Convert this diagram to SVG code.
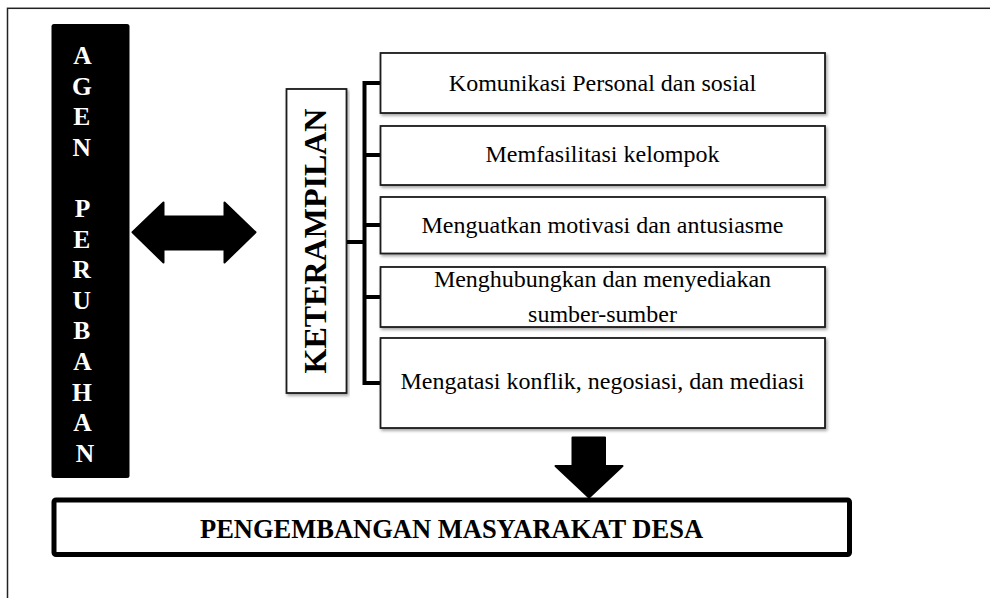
<svg xmlns="http://www.w3.org/2000/svg" width="990" height="598" viewBox="0 0 990 598">
<defs>
<style>
.frame{fill:none;stroke:#222;stroke-width:1.5}
.box{fill:#fff;stroke:#1a1a1a;stroke-width:1.8;filter:url(#sh)}
.t{font-family:"Liberation Serif","Times New Roman",serif;font-size:24px;fill:#000;text-anchor:middle}
.b{font-family:"Liberation Serif","Times New Roman",serif;font-weight:bold;text-anchor:middle}
.conn{fill:none;stroke:#000;stroke-width:4;stroke-linejoin:miter}
.arrow{fill:#000;stroke:#000;stroke-width:2;stroke-linejoin:round}
</style>
<filter id="sh" x="-5%" y="-10%" width="110%" height="130%">
<feDropShadow dx="1.5" dy="2" stdDeviation="1.5" flood-color="#000" flood-opacity="0.35"/>
</filter>
</defs>
<rect class="frame" x="7.5" y="8.3" width="1000" height="620"/>

<g id="agen">
<rect x="51.5" y="24" width="78" height="454" rx="2.5" fill="#000"/>
<text class="b" font-size="25.5" fill="#fff">
<tspan x="85" y="64">A</tspan>
<tspan x="85" y="94.6">G</tspan>
<tspan x="85" y="125.2">E</tspan>
<tspan x="85" y="155.8">N</tspan>
<tspan x="85" y="217">P</tspan>
<tspan x="85" y="247.6">E</tspan>
<tspan x="85" y="278.2">R</tspan>
<tspan x="85" y="308.8">U</tspan>
<tspan x="85" y="339.4">B</tspan>
<tspan x="85" y="370">A</tspan>
<tspan x="85" y="400.6">H</tspan>
<tspan x="85" y="431.2">A</tspan>
<tspan x="85" y="461.8">N</tspan>
</text>
</g>

<g id="double-arrow">
<polygon class="arrow" points="132.5,232.3 163.5,202.5 163.5,216.5 224.5,216.5 224.5,202.5 255.5,232.3 224.5,262.5 224.5,249.5 163.5,249.5 163.5,262.5"/>
</g>

<g id="keterampilan">
<rect class="box" x="286.5" y="89" width="60" height="304"/>
<text class="b" font-size="32" transform="translate(326,241) rotate(-90)" x="0" y="0">KETERAMPILAN</text>
</g>

<g id="connectors">
<path class="conn" d="M347,242 H364.5"/>
<path class="conn" d="M380,83 H364.5 V383 H380"/>
<path class="conn" d="M364.5,155 H380"/>
<path class="conn" d="M364.5,225 H380"/>
<path class="conn" d="M364.5,297 H380"/>
</g>

<g id="skill1">
<rect class="box" x="380.5" y="53" width="444.5" height="60"/>
<text class="t" x="602.5" y="91">Komunikasi Personal dan sosial</text>
</g>
<g id="skill2">
<rect class="box" x="380.5" y="126" width="444.5" height="59"/>
<text class="t" x="602.5" y="162">Memfasilitasi kelompok</text>
</g>
<g id="skill3">
<rect class="box" x="380.5" y="197" width="444.5" height="56.5"/>
<text class="t" x="602.5" y="233">Menguatkan motivasi dan antusiasme</text>
</g>
<g id="skill4">
<rect class="box" x="380.5" y="267" width="444.5" height="60"/>
<text class="t" x="602.5" y="287">Menghubungkan dan menyediakan</text>
<text class="t" x="602.5" y="321.5">sumber-sumber</text>
</g>
<g id="skill5">
<rect class="box" x="380.5" y="338" width="444.5" height="90"/>
<text class="t" x="602.5" y="389">Mengatasi konflik, negosiasi, dan mediasi</text>
</g>

<g id="down-arrow">
<polygon class="arrow" points="572.5,437.5 605,437.5 605,466 622.5,466 589,497.5 555.5,466 572.5,466"/>
</g>

<g id="pengembangan">
<rect x="54" y="500" width="795.5" height="54.5" rx="2" fill="#fff" stroke="#000" stroke-width="5"/>
<text class="b" font-size="26.5" x="451.5" y="538">PENGEMBANGAN MASYARAKAT DESA</text>
</g>
</svg>
